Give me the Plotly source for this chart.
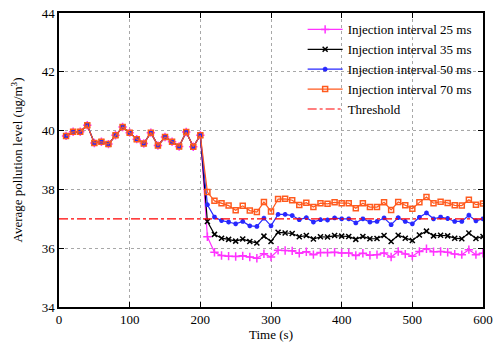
import plotly.graph_objects as go

time_s = list(range(10, 601, 10))

pre = [39.82, 39.96, 39.96, 40.18, 39.58, 39.62, 39.54, 39.84, 40.12, 39.93,
       39.71, 39.56, 39.93, 39.49, 39.78, 39.62, 39.46, 39.95, 39.45, 39.84]

ms25 = pre + [36.39, 35.86, 35.75, 35.73, 35.72, 35.74, 35.70, 35.66, 35.81, 35.70,
              35.93, 35.92, 35.91, 35.83, 35.88, 35.78, 35.85, 35.85, 35.86,
              35.84, 35.84, 35.75, 35.83, 35.76, 35.78, 35.84, 35.70, 35.89, 35.80,
              35.73, 35.89, 35.98, 35.88, 35.89, 35.86, 35.80, 35.78, 35.95, 35.78, 35.83]

ms35 = pre + [36.91, 36.47, 36.34, 36.30, 36.24, 36.31, 36.23, 36.18, 36.41, 36.23,
              36.54, 36.52, 36.50, 36.39, 36.43, 36.31, 36.39, 36.38, 36.43,
              36.41, 36.40, 36.30, 36.40, 36.32, 36.33, 36.43, 36.23, 36.44, 36.34,
              36.26, 36.45, 36.58, 36.42, 36.44, 36.42, 36.34, 36.32, 36.52, 36.33, 36.40]

ms50 = pre + [37.48, 37.06, 36.94, 36.89, 36.83, 36.91, 36.76, 36.74, 37.02, 36.76,
              37.15, 37.15, 37.11, 36.97, 37.04, 36.89, 36.97, 36.96, 37.03,
              37.00, 37.00, 36.86, 37.00, 36.89, 36.91, 37.03, 36.80, 37.04, 36.91,
              36.83, 37.05, 37.20, 37.00, 37.06, 37.01, 36.91, 36.91, 37.12, 36.93, 37.00]

ms70 = pre + [37.91, 37.61, 37.53, 37.45, 37.29, 37.44, 37.28, 37.23, 37.57, 37.25,
              37.67, 37.68, 37.63, 37.47, 37.55, 37.40, 37.53, 37.51, 37.56,
              37.53, 37.53, 37.36, 37.53, 37.40, 37.40, 37.56, 37.30, 37.57, 37.46,
              37.34, 37.56, 37.74, 37.53, 37.58, 37.54, 37.46, 37.45, 37.65, 37.48, 37.52]

threshold_x = [0, 600]
threshold_y = [37, 37]

names = ["Injection interval 25 ms", "Injection interval 35 ms",
         "Injection interval 50 ms", "Injection interval 70 ms"]
series = [ms25, ms35, ms50, ms70]
colors = ["#ff33ff", "#000000", "#2828ff", "#ff5a1e"]
symbols = ["cross-thin-open", "x-thin-open", "asterisk-open", "square-open"]
sizes = [6, 5, 4, 5]

FONT = "Liberation Serif, Times New Roman, DejaVu Serif, serif"

fig = go.Figure()
for name, ys, c, s, sz in zip(names, series, colors, symbols, sizes):
    fig.add_trace(go.Scatter(
        x=time_s, y=ys, name=name, mode="lines+markers",
        line=dict(color=c, width=1.2),
        marker=dict(symbol=s, size=sz, color=c, line=dict(color=c, width=1.5)),
    ))
fig.add_trace(go.Scatter(
    x=threshold_x, y=threshold_y, name="Threshold", mode="lines",
    line=dict(color="#ff0000", width=1.2, dash="dashdot"),
))

fig.add_shape(type="rect", xref="paper", yref="paper",
              x0=0.439, x1=1, y0=0.772, y1=1,
              fillcolor="white", line=dict(width=0), layer="between")

axis_common = dict(
    showline=True, linecolor="black", linewidth=1.5, mirror="ticks",
    ticks="inside", ticklen=5, tickcolor="black", tickwidth=1,
    showgrid=True, gridcolor="#a8a8a8", griddash="dot", gridwidth=1,
    zeroline=False, automargin=False,
    tickfont=dict(family=FONT, size=13, color="black"),
)

fig.update_layout(
    width=493, height=342,
    margin=dict(l=59, r=10, t=13, b=35),
    paper_bgcolor="white", plot_bgcolor="white",
    font=dict(family=FONT, size=13, color="black"),
    showlegend=True,
    legend=dict(x=0.985, y=0.995, xanchor="right", yanchor="top",
                bgcolor="rgba(0,0,0,0)", font=dict(family=FONT, size=13),
                tracegroupgap=0, itemwidth=35),
    xaxis=dict(range=[0, 600], dtick=100, tick0=0,
               title=dict(text="Time (s)", font=dict(family=FONT, size=13), standoff=8),
               **axis_common),
    yaxis=dict(range=[34, 44], dtick=2, tick0=34,
               title=dict(text="Average pollution level (ug/m<sup>3</sup>)",
                          font=dict(family=FONT, size=13), standoff=16),
               **axis_common),
)

fig.write_html("out.html")
